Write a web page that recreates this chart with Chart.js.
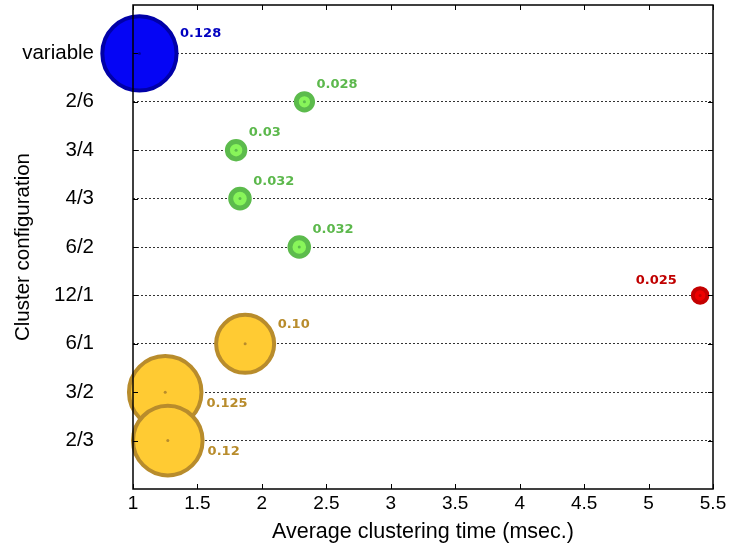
<!DOCTYPE html>
<html>
<head>
<meta charset="utf-8">
<script src="https://cdn.jsdelivr.net/npm/chart.js@4.4.0/dist/chart.umd.min.js"></script>
<style>
  body { margin: 0; background: #fff; }
</style>
</head>
<body>
<canvas id="bubble-chart" width="733" height="546"></canvas>
<script>
//================================DATA================================
var categories = ["variable", "2/6", "3/4", "4/3", "6/2", "12/1", "6/1", "3/2", "2/3"];
var avgTime = [1.05, 2.33, 1.80, 1.83, 2.29, 5.40, 1.87, 1.25, 1.27];
var sizes = [0.128, 0.028, 0.03, 0.032, 0.032, 0.025, 0.10, 0.125, 0.12];
var sizeLabels = ["0.128", "0.028", "0.03", "0.032", "0.032", "0.025", "0.10", "0.125", "0.12"];

//================================STYLE===============================
var fillColors = ["#0505f5", "#88f55a", "#88f55a", "#88f55a", "#88f55a", "#ee0000", "#ffcb33", "#ffcb33", "#ffcb33"];
var ringColors = ["#0000a8", "#5cbb4c", "#5cbb4c", "#5cbb4c", "#5cbb4c", "#c40000", "#b88c2c", "#b88c2c", "#b88c2c"];
var ringWidths = [4, 5, 5, 5, 5, 4, 4, 4, 4];
var labelColors = ["#0000c0", "#5cb84c", "#5cb84c", "#5cb84c", "#5cb84c", "#c00000", "#b88c2c", "#b88c2c", "#b88c2c"];
var labelSide = ["ne", "ne", "ne", "ne", "ne", "nw", "ne", "se", "se"];
var radiusScale = 290;
var axisFont = "'Liberation Sans', Arial, sans-serif";

var points = categories.map(function(c, i) {
  return { x: avgTime[i], y: i + 1, r: sizes[i] * radiusScale };
});

//================================PLUGIN==============================
var extrasPlugin = {
  id: 'extras',
  afterDatasetsDraw: function(chart) {
    var ctx = chart.ctx, area = chart.chartArea;
    var xs = chart.scales.x, ys = chart.scales.y;
    ctx.save();

    // frame drawn over the bubbles
    ctx.strokeStyle = '#000';
    ctx.lineWidth = 1.5;
    ctx.strokeRect(area.left, area.top, area.right - area.left, area.bottom - area.top);

    // inward tick marks
    ctx.lineWidth = 1;
    ctx.beginPath();
    xs.ticks.forEach(function(t) {
      var px = Math.round(xs.getPixelForValue(t.value)) + 0.5;
      ctx.moveTo(px, area.bottom); ctx.lineTo(px, area.bottom - 5);
      ctx.moveTo(px, area.top); ctx.lineTo(px, area.top + 5);
    });
    ys.ticks.forEach(function(t) {
      var py = Math.round(ys.getPixelForValue(t.value)) + 0.5;
      ctx.moveTo(area.left, py); ctx.lineTo(area.left + 5, py);
      ctx.moveTo(area.right, py); ctx.lineTo(area.right - 5, py);
    });
    ctx.stroke();

    // centre dots and value labels
    var meta = chart.getDatasetMeta(0);
    ctx.font = 'bold 13px "DejaVu Sans", Verdana, sans-serif';
    ctx.textBaseline = 'middle';
    meta.data.forEach(function(pt, i) {
      var ext = pt.options.radius + pt.options.borderWidth / 2;
      ctx.fillStyle = ringColors[i];
      ctx.beginPath();
      ctx.arc(pt.x, pt.y, 1.5, 0, 2 * Math.PI);
      ctx.fill();

      ctx.fillStyle = labelColors[i];
      if (labelSide[i] == 'ne') {
        ctx.textAlign = 'left';
        ctx.fillText(sizeLabels[i], pt.x + ext + 1.5, pt.y - 16 - ext * 0.1);
      } else if (labelSide[i] == 'se') {
        ctx.textAlign = 'left';
        ctx.fillText(sizeLabels[i], pt.x + ext + 3, pt.y + 11);
      } else {
        ctx.textAlign = 'right';
        ctx.fillText(sizeLabels[i], pt.x - ext - 14, pt.y - 15);
      }
    });
    ctx.restore();
  }
};

//================================CHART===============================
new Chart(document.getElementById("bubble-chart"), {
  type: 'bubble',
  data: {
    datasets: [{
      data: points,
      backgroundColor: fillColors,
      borderColor: ringColors,
      borderWidth: ringWidths,
      hoverBorderWidth: ringWidths,
      clip: false
    }]
  },
  options: {
    responsive: false,
    animation: false,
    events: [],
    layout: { autoPadding: false, padding: { left: 0, top: 5, right: 20, bottom: 0 } },
    plugins: {
      legend: { display: false },
      tooltip: { enabled: false }
    },
    scales: {
      x: {
        type: 'linear',
        min: 1,
        max: 5.5,
        afterFit: function(s) { s.height = 57; },
        grid: { display: false, drawTicks: false },
        border: { display: false },
        ticks: {
          stepSize: 0.5,
          padding: 3,
          color: '#000',
          font: { family: axisFont, size: 19 },
          callback: function(value) {
            return String(Math.round(value * 10) / 10);
          }
        },
        title: {
          display: true,
          text: 'Average clustering time (msec.)',
          color: '#000',
          font: { family: axisFont, size: 21.5 },
          padding: { top: 0, bottom: 1 }
        }
      },
      y: {
        type: 'linear',
        min: 0,
        max: 10,
        reverse: true,
        afterFit: function(s) {
          s.width = 133;
          s.paddingTop = 0;
          s.paddingBottom = 0;
        },
        grid: { color: '#333', lineWidth: 1, drawTicks: false },
        border: { display: false, dash: [2, 2] },
        ticks: {
          stepSize: 1,
          autoSkip: false,
          padding: 39,
          color: '#000',
          font: { family: axisFont, size: 20.5 },
          callback: function(value) {
            var c = categories[value - 1];
            return c === undefined ? null : c;
          }
        },
        title: {
          display: true,
          text: 'Cluster configuration',
          color: '#000',
          font: { family: axisFont, size: 20.5 },
          padding: { top: 11, bottom: 0 }
        }
      }
    }
  },
  plugins: [extrasPlugin]
});
</script>
</body>
</html>
